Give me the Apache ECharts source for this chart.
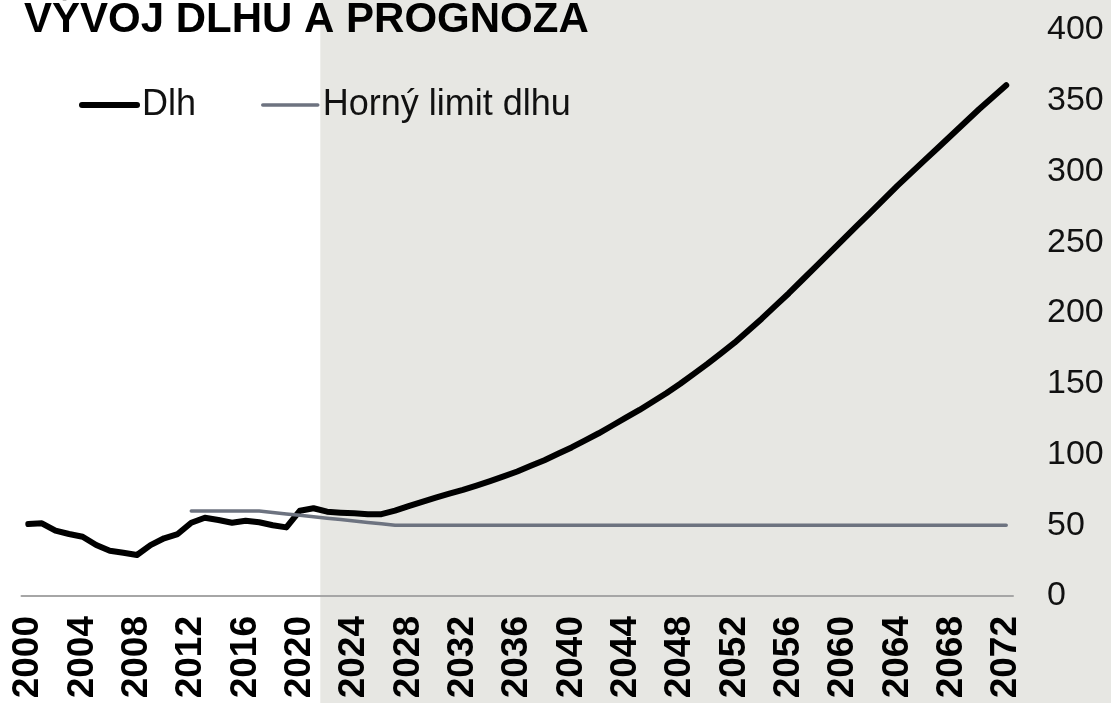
<!DOCTYPE html>
<html>
<head>
<meta charset="utf-8">
<title>Vývoj dlhu a prognóza</title>
<script src="https://cdn.jsdelivr.net/npm/echarts@6/dist/echarts.min.js"></script>
<style>
  html, body { margin: 0; padding: 0; background: #fff; }
  #chart { width: 1111px; height: 703px; }
</style>
</head>
<body>
<div id="chart"></div>
<script>
var FONT = "'Liberation Sans', Arial, sans-serif";

var years = [
  "2000","2001","2002","2003","2004","2005","2006","2007","2008","2009",
  "2010","2011","2012","2013","2014","2015","2016","2017","2018","2019",
  "2020","2021","2022","2023","2024","2025","2026","2027","2028","2029",
  "2030","2031","2032","2033","2034","2035","2036","2037","2038","2039",
  "2040","2041","2042","2043","2044","2045","2046","2047","2048","2049",
  "2050","2051","2052","2053","2054","2055","2056","2057","2058","2059",
  "2060","2061","2062","2063","2064","2065","2066","2067","2068","2069",
  "2070","2071","2072"
];

// Dlh (% HDP), skutocnost + prognoza
var dlh = [
  50.9, 51.4, 46.2, 43.8, 41.9, 36.0, 32.0, 30.6, 29.0, 36.0,
  40.8, 43.8, 51.8, 55.3, 53.7, 51.8, 53.2, 52.1, 50.0, 48.5,
  60.3, 62.0, 59.6, 58.9, 58.4, 57.7, 57.8, 60.3, 63.5, 66.5,
  69.5, 72.3, 75.0, 78.0, 81.2, 84.5, 88.0, 92.0, 96.0, 100.5,
  105.0, 110.0, 115.0, 120.5, 126.0, 131.5, 137.5, 143.5, 150.0, 157.0,
  164.0, 171.5, 179.0, 187.5, 196.0, 205.0, 214.0, 223.5, 233.0, 242.5,
  252.0, 261.5, 271.0, 280.5, 290.0, 299.0, 308.0, 317.0, 326.0, 335.0,
  344.0, 352.5, 361.0
];

// Horny limit dlhu
var limit = [
  null, null, null, null, null, null, null, null, null, null,
  null, null, 60, 60, 60, 60, 60, 60, 59, 58,
  57, 56, 55, 54, 53, 52, 51, 50, 50, 50,
  50, 50, 50, 50, 50, 50, 50, 50, 50, 50,
  50, 50, 50, 50, 50, 50, 50, 50, 50, 50,
  50, 50, 50, 50, 50, 50, 50, 50, 50, 50,
  50, 50, 50, 50, 50, 50, 50, 50, 50, 50,
  50, 50, 50
];

var yTicks = [0, 50, 100, 150, 200, 250, 300, 350, 400];
var forecastStart = "2022";

var chart = echarts.init(document.getElementById("chart"));

var option = {
  animation: false,
  backgroundColor: "#fff",
  title: {
    text: "VÝVOJ DLHU A PROGNÓZA",
    left: 24,
    top: -1,
    padding: 0,
    textStyle: {
      fontFamily: FONT,
      fontSize: 42,
      fontWeight: "bold",
      color: "#000"
    }
  },
  legend: {
    left: 79,
    top: 87,
    padding: 0,
    itemWidth: 55,
    itemHeight: 14,
    itemGap: 65,
    textStyle: {
      fontFamily: FONT,
      fontSize: 36,
      color: "#111"
    },
    // iba ciara, bez krúžku
    itemStyle: { color: "rgba(0,0,0,0)", borderWidth: 0 },
    lineStyle: { width: "inherit", cap: "inherit" },
    data: ["Dlh", "Horný limit dlhu"]
  },
  grid: {
    left: 21.5,
    right: 98,
    top: 30,
    bottom: 107,
    containLabel: false,
    outerBoundsMode: "none"
  },
  xAxis: {
    type: "category",
    data: years,
    boundaryGap: true,
    axisLine: { lineStyle: { color: "#a6a6a6", width: 2 } },
    axisTick: { show: false },
    axisLabel: {
      interval: 3,
      rotate: 90,
      margin: 20,
      fontFamily: FONT,
      fontSize: 37,
      fontWeight: "bold",
      color: "#000"
    },
    splitLine: { show: false }
  },
  yAxis: {
    type: "value",
    position: "right",
    min: yTicks[0],
    max: yTicks[yTicks.length - 1],
    interval: 50,
    axisLine: { show: false },
    axisTick: { show: false },
    splitLine: { show: false },
    axisLabel: {
      margin: 34,
      fontFamily: FONT,
      fontSize: 34,
      color: "#111"
    }
  },
  series: [
    {
      name: "Dlh",
      type: "line",
      data: dlh,
      symbol: "none",
      smooth: false,
      lineStyle: { color: "#000", width: 6, cap: "round", join: "round" },
      itemStyle: { color: "#000" },
      z: 3
    },
    {
      name: "Horný limit dlhu",
      type: "line",
      data: limit,
      symbol: "none",
      lineStyle: { color: "#6d7380", width: 3.5, cap: "round" },
      itemStyle: { color: "#6d7380" },
      z: 4
    }
  ]
};

chart.setOption(option);

// sede pozadie pre obdobie prognozy
var c0 = chart.convertToPixel({ xAxisIndex: 0 }, forecastStart);
var c1 = chart.convertToPixel({ xAxisIndex: 0 }, years[years.indexOf(forecastStart) + 1]);
var shadeLeft = c0 - (c1 - c0) / 2;

chart.setOption({
  graphic: [
    {
      type: "rect",
      z: -10,
      silent: true,
      shape: {
        x: shadeLeft,
        y: 0,
        width: chart.getWidth() - shadeLeft,
        height: chart.getHeight()
      },
      style: { fill: "#e7e7e3" }
    }
  ]
});
</script>
</body>
</html>
